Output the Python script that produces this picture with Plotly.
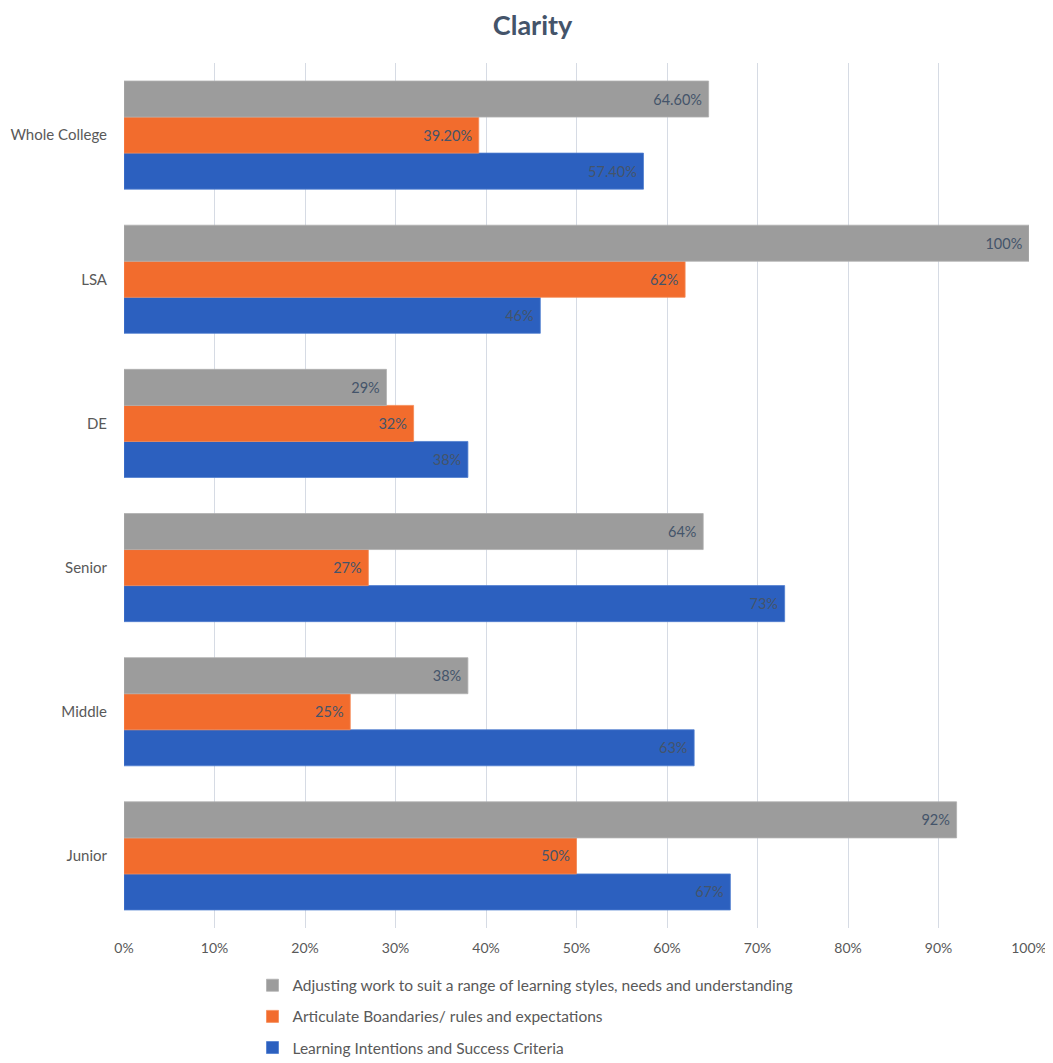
import plotly.graph_objects as go

categories = ["Junior", "Middle", "Senior", "DE", "LSA", "Whole College"]

series_names = [
    "Learning Intentions and Success Criteria",
    "Articulate Boandaries/ rules and expectations",
    "Adjusting work to suit a range of learning styles, needs and understanding",
]

learning_intentions = [67, 63, 73, 38, 46, 57.4]
articulate_boundaries = [50, 25, 27, 32, 62, 39.2]
adjusting_work = [92, 38, 64, 29, 100, 64.6]

learning_labels = ["67%", "63%", "73%", "38%", "46%", "57.40%"]
articulate_labels = ["50%", "25%", "27%", "32%", "62%", "39.20%"]
adjusting_labels = ["92%", "38%", "64%", "29%", "100%", "64.60%"]

colors = ["#2C60BF", "#F26C2D", "#9C9C9C"]
line_colors = ["#4F7DCF", "#F58A55", "#B0B0B0"]
ranks = [3, 2, 1]

fig = go.Figure()
for i, (name, vals, labels) in enumerate(zip(
        series_names,
        [learning_intentions, articulate_boundaries, adjusting_work],
        [learning_labels, articulate_labels, adjusting_labels])):
    fig.add_trace(go.Bar(
        y=categories, x=vals, name=name, orientation="h",
        text=labels, texttemplate="%{text}\u00a0", textposition="inside",
        insidetextanchor="end", textangle=0, constraintext="none",
        textfont=dict(family="Lato, sans-serif", size=14.5, color="#44546A"),
        marker=dict(color=colors[i], line=dict(color=line_colors[i], width=0.8)),
        legendgroup=f"g{i}", legendrank=ranks[i],
        hoverinfo="skip",
    ))

fig.update_layout(
    width=1045, height=1055,
    paper_bgcolor="white", plot_bgcolor="white",
    margin=dict(l=116, r=24, t=55, b=135, autoexpand=False),
    barmode="group", bargap=0.25, bargroupgap=0,
    font=dict(family="Lato, sans-serif", color="#595959"),
    title=dict(text="<b>Clarity</b>", x=0.502, xanchor="center", y=0.983, yanchor="middle",
               font=dict(family="Lato, sans-serif", size=27, color="#44546A")),
    showlegend=True,
    legend=dict(orientation="v", traceorder="grouped", x=0.142, xanchor="left",
                y=-0.047, yanchor="top", tracegroupgap=8,
                font=dict(family="Lato, sans-serif", size=15.5, color="#595959"),
                bgcolor="rgba(0,0,0,0)"),
    xaxis=dict(range=[0, 100], dtick=10, ticksuffix="%", showgrid=True,
               gridcolor="#D6DBE4", gridwidth=1, zeroline=False, showline=False,
               tickfont=dict(size=14, color="#595959"), ticks="", ticklen=0,
               ticklabelstandoff=10, automargin=False),
    yaxis=dict(categoryorder="array", categoryarray=categories, showgrid=False,
               showline=False, zeroline=False, ticks="", ticklabelstandoff=16,
               tickfont=dict(size=15, color="#595959"), automargin=False),
)

fig.write_html("out.html")
